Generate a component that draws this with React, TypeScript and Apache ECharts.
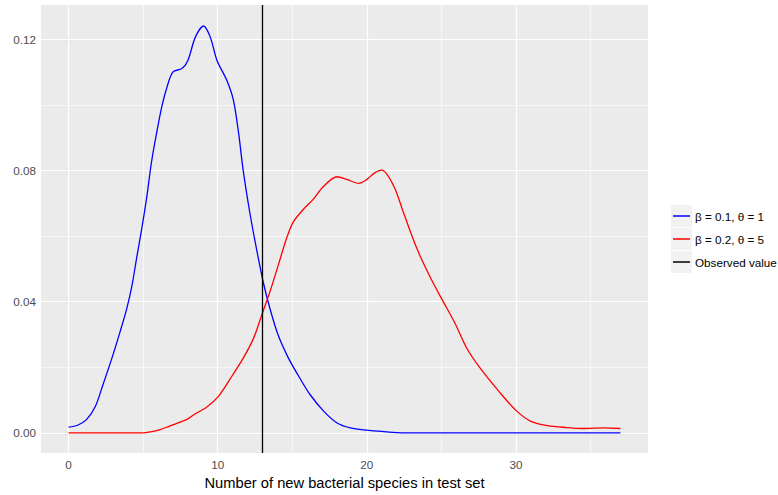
import React, { useEffect, useRef } from "react";
import * as echarts from "echarts";

// Density curve 1: beta = 0.1, theta = 1
const lowX = [0, 0.6, 1.2, 1.8, 2.3, 2.9, 3.45, 3.9, 4.25, 4.55, 4.9, 5.25, 5.55, 5.9, 6.25, 6.6, 7.0, 7.6, 8.0, 8.5, 9.05, 9.5, 9.95, 10.6, 11.05, 11.4, 11.7, 12.15, 12.6, 13.05, 13.5, 14.05, 14.75, 15.5, 16.2, 17.1, 18.0, 18.9, 20, 21, 22.5, 25, 30, 37];
const lowY = [0.0017, 0.0023, 0.004, 0.0081, 0.0146, 0.0227, 0.0308, 0.0379, 0.0449, 0.053, 0.0621, 0.0722, 0.0823, 0.0914, 0.0995, 0.1055, 0.1101, 0.1111, 0.1136, 0.1207, 0.1241, 0.1207, 0.1136, 0.1076, 0.1015, 0.0914, 0.0803, 0.0672, 0.0561, 0.046, 0.0379, 0.0298, 0.0227, 0.0167, 0.0116, 0.0066, 0.003, 0.0015, 0.0008, 0.0004, 0.0, 0.0, 0.0, 0.0];

// Density curve 2: beta = 0.2, theta = 5
const highX = [0, 5, 5.5, 6.1, 6.7, 7.25, 7.9, 8.4, 9.25, 10.05, 10.8, 11.7, 12.4, 12.95, 13.5, 14.05, 14.6, 15.05, 15.75, 16.4, 17.1, 18.0, 18.65, 19.45, 20.0, 20.5, 21.0, 21.8, 22.45, 23.1, 23.6, 24.3, 25.0, 25.9, 26.7, 27.6, 28.95, 30.05, 31.0, 32.1, 33.4, 34.5, 35.9, 37];
const highY = [0, 0, 0.0003, 0.0009, 0.0019, 0.0029, 0.004, 0.0055, 0.0078, 0.0111, 0.0162, 0.0227, 0.0288, 0.0359, 0.043, 0.051, 0.0591, 0.0642, 0.0682, 0.0712, 0.0752, 0.0781, 0.0773, 0.0761, 0.0773, 0.0792, 0.0801, 0.0753, 0.0672, 0.0591, 0.0536, 0.047, 0.041, 0.0335, 0.0258, 0.0197, 0.0121, 0.0066, 0.0035, 0.0022, 0.0016, 0.0013, 0.0015, 0.0013];

const observedValue = 13;

const xMajor = [0, 10, 20, 30];
const xMinor = [5, 15, 25, 35];
const yMajor = [0, 0.04, 0.08, 0.12];
const yMinor = [0.02, 0.06, 0.1];

const seriesNames = ["β = 0.1, θ = 1", "β = 0.2, θ = 5", "Observed value"];
const seriesColors = ["#0000FF", "#FF0000", "#000000"];

const FONT = "Liberation Sans, Arial, Helvetica, sans-serif";

export default function App() {
  const ref = useRef<HTMLDivElement>(null);

  useEffect(() => {
    if (!ref.current) return;
    const chart = echarts.init(ref.current, null, { renderer: "svg" });

    const gridLines = [
      ...xMinor.map((v) => ({ xAxis: v, lineStyle: { color: "#FFFFFF", width: 0.6, type: "solid" } })),
      ...yMinor.map((v) => ({ yAxis: v, lineStyle: { color: "#FFFFFF", width: 0.6, type: "solid" } })),
      ...xMajor.map((v) => ({ xAxis: v, lineStyle: { color: "#FFFFFF", width: 1.2, type: "solid" } })),
      ...yMajor.map((v) => ({ yAxis: v, lineStyle: { color: "#FFFFFF", width: 1.2, type: "solid" } })),
    ];

    const legendGraphics: any[] = [];
    seriesNames.forEach((name, i) => {
      const top = 205 + i * 23;
      legendGraphics.push({
        type: "rect",
        shape: { x: 671, y: top, width: 21, height: 22 },
        style: { fill: "#F2F2F2" },
        silent: true,
      });
      legendGraphics.push({
        type: "line",
        shape: { x1: 673, y1: top + 11, x2: 690, y2: top + 11 },
        style: { stroke: seriesColors[i], lineWidth: 1.5 },
        silent: true,
      });
      legendGraphics.push({
        type: "text",
        x: 695,
        y: top + 11,
        style: {
          text: name,
          fill: "#000000",
          font: `11.7px ${FONT}`,
          verticalAlign: "middle",
          align: "left",
        },
        silent: true,
      });
    });

    chart.setOption({
      animation: false,
      grid: {
        left: 41,
        right: 130,
        top: 5,
        bottom: 39.3,
        show: true,
        backgroundColor: "#EBEBEB",
        borderWidth: 0,
      },
      xAxis: {
        type: "value",
        min: -1.85,
        max: 38.85,
        name: "Number of new bacterial species in test set",
        nameLocation: "middle",
        nameGap: 20,
        nameTextStyle: { color: "#000000", fontSize: 14.7, fontFamily: FONT },
        axisLine: { show: false },
        splitLine: { show: false },
        axisTick: {
          show: true,
          customValues: xMajor,
          length: 3.7,
          lineStyle: { color: "#333333", width: 1.1 },
        },
        axisLabel: {
          customValues: xMajor,
          color: "#4D4D4D",
          fontSize: 11.7,
          fontFamily: FONT,
          margin: 5,
        },
      },
      yAxis: {
        type: "value",
        min: -0.0062,
        max: 0.1305,
        axisLine: { show: false },
        splitLine: { show: false },
        axisTick: {
          show: true,
          customValues: yMajor,
          length: 3.7,
          lineStyle: { color: "#333333", width: 1.1 },
        },
        axisLabel: {
          customValues: yMajor,
          color: "#4D4D4D",
          fontSize: 11.7,
          fontFamily: FONT,
          margin: 5,
          formatter: (v: number) => v.toFixed(2),
        },
      },
      series: [
        {
          name: "grid",
          type: "line",
          data: [],
          silent: true,
          z: 1,
          markLine: {
            silent: true,
            z: 1,
            symbol: "none",
            label: { show: false },
            animation: false,
            data: gridLines,
          },
        },
        {
          name: seriesNames[0],
          type: "line",
          data: lowX.map((x, i) => [x, lowY[i]]),
          showSymbol: false,
          smooth: 0.3,
          lineStyle: { color: seriesColors[0], width: 1.3 },
          itemStyle: { color: seriesColors[0] },
          z: 3,
        },
        {
          name: seriesNames[1],
          type: "line",
          data: highX.map((x, i) => [x, highY[i]]),
          showSymbol: false,
          smooth: 0.3,
          lineStyle: { color: seriesColors[1], width: 1.3 },
          itemStyle: { color: seriesColors[1] },
          z: 3,
          markLine: {
            silent: true,
            z: 5,
            symbol: "none",
            label: { show: false },
            animation: false,
            lineStyle: { color: seriesColors[2], width: 1.3, type: "solid" },
            data: [{ xAxis: observedValue }],
          },
        },
      ],
      graphic: legendGraphics,
    });

    return () => chart.dispose();
  }, []);

  return (
    <div
      ref={ref}
      style={{ position: "absolute", left: 0, top: 0, width: 778, height: 495, background: "#FFFFFF" }}
    />
  );
}
